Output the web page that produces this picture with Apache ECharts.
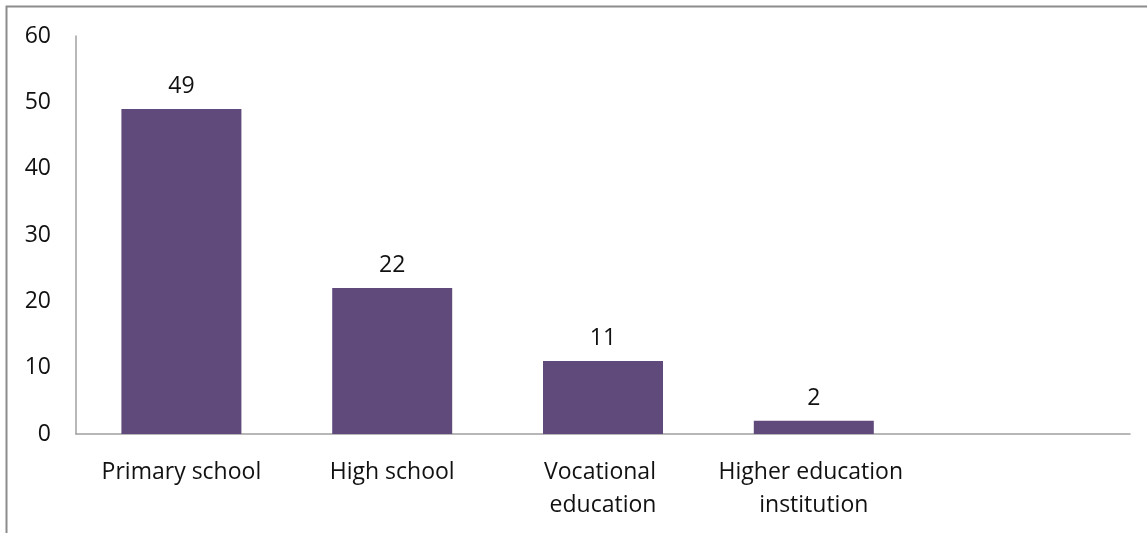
<!DOCTYPE html>
<html>
<head>
<meta charset="utf-8">
<script src="https://cdn.jsdelivr.net/npm/echarts@6/dist/echarts.min.js"></script>
<style>
  html, body { margin: 0; padding: 0; background: #fff; }
  #chart { width: 1147px; height: 533px; }
</style>
</head>
<body>
<div id="chart"></div>
<script>
// Education level counts
const categories = ['Primary school', 'High school', 'Vocational education', 'Higher education institution', ''];
const counts = [49, 22, 11, 2, '-'];
const yTicks = { min: 0, max: 60, interval: 10 };

const FONT = '"Open Sans"';
const SIZE = 23;
const chart = echarts.init(document.getElementById('chart'), null, { renderer: 'canvas' });

chart.setOption({
  animation: false,
  backgroundColor: '#ffffff',
  textStyle: { fontFamily: FONT },
  graphic: [{
    type: 'rect',
    shape: { x: 6.5, y: 6.5, width: 1300, height: 700 },
    style: { fill: 'none', stroke: '#8c8c8c', lineWidth: 2 },
    silent: true
  }],
  grid: { left: 76, right: 17, top: 36, bottom: 99, containLabel: false },
  xAxis: {
    type: 'category',
    data: categories,
    axisLine: { show: true, lineStyle: { color: '#a0a0a0', width: 1.5 } },
    axisTick: { show: false },
    axisLabel: {
      interval: 0,
      color: '#111',
      fontFamily: FONT,
      fontSize: SIZE,
      lineHeight: 33,
      margin: 22,
      width: 200,
      overflow: 'break'
    }
  },
  yAxis: {
    type: 'value',
    min: yTicks.min,
    max: yTicks.max,
    interval: yTicks.interval,
    axisLine: { show: true, lineStyle: { color: '#a0a0a0', width: 1.5 } },
    axisTick: { show: false },
    splitLine: { show: false },
    axisLabel: { color: '#111', fontFamily: FONT, fontSize: SIZE, margin: 25 }
  },
  series: [{
    type: 'bar',
    data: counts,
    barWidth: 120,
    itemStyle: { color: '#604A7B' },
    label: {
      show: true,
      position: 'top',
      distance: 11,
      color: '#111',
      fontFamily: FONT,
      fontSize: SIZE
    }
  }]
});
</script>
</body>
</html>
